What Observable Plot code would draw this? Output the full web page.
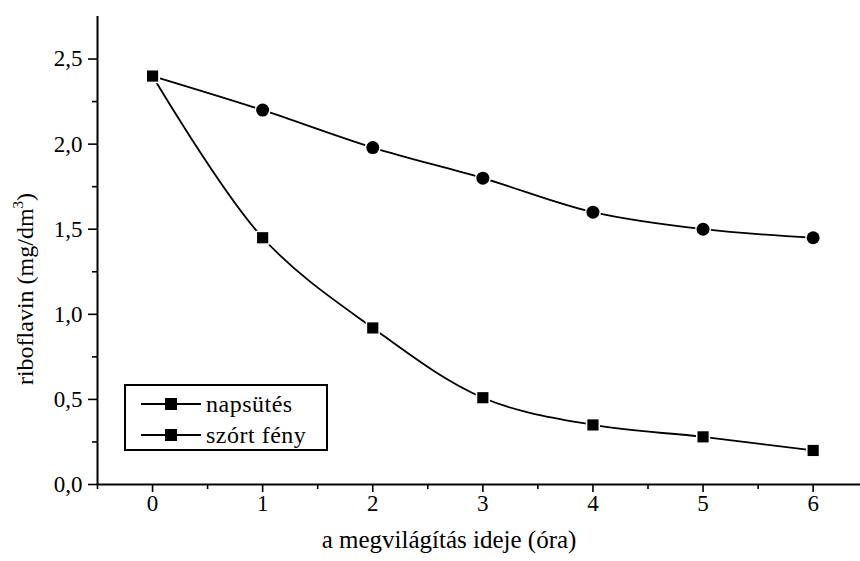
<!DOCTYPE html>
<html>
<head>
<meta charset="utf-8">
<script src="https://cdn.jsdelivr.net/npm/d3@7"></script>
<script src="https://cdn.jsdelivr.net/npm/@observablehq/plot@0.6"></script>
</head>
<body style="margin:0;padding:0;background:white">
<div id="wrap" style="position:relative;width:860px;height:561px;font-family:'Liberation Serif';color:black;overflow:hidden">
  <div id="chart"></div>
  <div id="ytitle" style="position:absolute;left:25px;top:289px;transform:translate(-50%,-50%) rotate(-90deg);white-space:nowrap;font-size:24px;font-family:'Liberation Serif'">riboflavin (mg/dm<sup style="font-size:15px;vertical-align:10px;line-height:0">3</sup>)</div>
  <div id="xtitle" style="position:absolute;left:449px;top:540px;transform:translate(-50%,-50%);white-space:nowrap;font-size:25px;font-family:'Liberation Serif'">a megvilágítás ideje (óra)</div>
  <div id="legend" style="position:absolute;left:124px;top:384px;width:204px;height:67px;border:2px solid black;box-sizing:border-box;background:white;font-size:24px;font-family:'Liberation Serif'"></div>
</div>
<script>
const hours = [0, 1, 2, 3, 4, 5, 6];
const napsutes = [2.40, 1.45, 0.92, 0.51, 0.35, 0.28, 0.20];
const szortFeny = [2.40, 2.20, 1.98, 1.80, 1.60, 1.50, 1.45];
const seriesNames = ["napsütés", "szórt fény"];
const xTicks = [0, 1, 2, 3, 4, 5, 6];
const xMinorTicks = [-0.5, 0.5, 1.5, 2.5, 3.5, 4.5, 5.5];
const yTicks = [0, 0.5, 1.0, 1.5, 2.0, 2.5];
const yMinorTicks = [0.25, 0.75, 1.25, 1.75, 2.25];

const dataA = hours.map((h, i) => ({x: h, y: napsutes[i], s: seriesNames[0]}));
const dataB = hours.map((h, i) => ({x: h, y: szortFeny[i], s: seriesNames[1]}));
const all = dataA.concat(dataB);

const chart = Plot.plot({
  width: 860,
  height: 561,
  marginLeft: 97,
  marginRight: 0,
  marginTop: 16,
  marginBottom: 77,
  x: {domain: [-0.5, 6.43]},
  y: {domain: [0, 2.75]},
  style: {fontFamily: "'Liberation Serif', serif", fontSize: "23px", color: "black", background: "white", overflow: "visible"},
  marks: [
    Plot.axisY({ticks: yTicks, tickSize: 9, tickPadding: 6, strokeWidth: 1.6, tickFormat: d => d.toFixed(1).replace(".", ","), label: null}),
    Plot.axisY({ticks: yMinorTicks, tickSize: 5, strokeWidth: 1.6, tickFormat: () => "", label: null}),
    Plot.axisX({ticks: xTicks, tickSize: 8, tickPadding: 2, strokeWidth: 1.6, tickFormat: d => String(d), label: null}),
    Plot.axisX({ticks: xMinorTicks, tickSize: 5, strokeWidth: 1.6, tickFormat: () => "", label: null}),
    Plot.ruleX([-0.5], {strokeWidth: 2}),
    Plot.ruleY([0], {strokeWidth: 2}),
    Plot.line(all, {x: "x", y: "y", z: "s", curve: "catmull-rom", stroke: "black", strokeWidth: 1.8}),
    Plot.dot(dataB, {x: "x", y: "y", symbol: "circle", r: 6.5, fill: "black", stroke: "white", strokeWidth: 3, paintOrder: "stroke"}),
    Plot.dot(dataA, {x: "x", y: "y", symbol: "square", r: 6.3, fill: "black", stroke: "white", strokeWidth: 3, paintOrder: "stroke"})
  ]
});
document.getElementById("chart").appendChild(chart);

const legend = document.getElementById("legend");
seriesNames.forEach((name, i) => {
  const row = document.createElement("div");
  row.setAttribute("style", `position:absolute;left:15px;top:${3 + i * 31}px;height:30px;display:flex;align-items:center;font-family:'Liberation Serif';letter-spacing:0.5px`);
  row.innerHTML = `<svg width="60" height="14" style="margin-right:5px"><line x1="0" x2="60" y1="7" y2="7" stroke="black" stroke-width="1.8"/><rect x="24" y="1" width="12" height="12" fill="black"/></svg><span>${name}</span>`;
  legend.appendChild(row);
});
</script>
</body>
</html>
